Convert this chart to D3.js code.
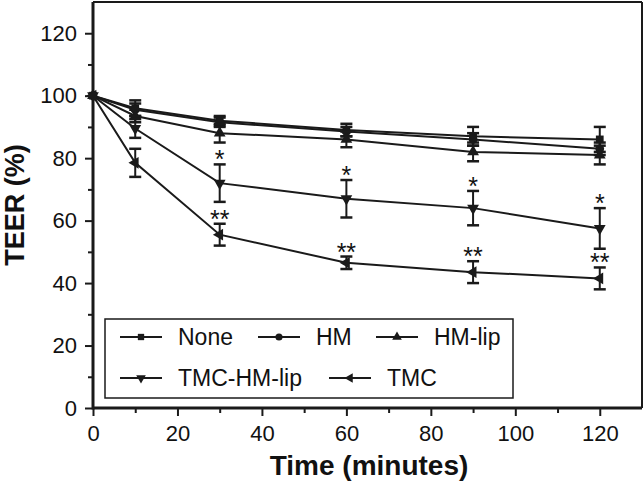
<!DOCTYPE html>
<html><head><meta charset="utf-8">
<script src="https://cdn.jsdelivr.net/npm/d3@7"></script>
<style>body{margin:0;background:#fff}svg{display:block}text{font-family:"Liberation Sans",Arial,sans-serif;fill:#111}</style>
</head><body><svg id="c" width="644" height="482"></svg>
<script>
const times = [0, 10, 30, 60, 90, 120];
const seriesNames = ["None", "HM", "HM-lip", "TMC-HM-lip", "TMC"];
const noneVals = [100, 96, 92, 89, 87, 86];
const noneErr = [0, 2.5, 1.5, 2, 3, 4];
const hmVals = [100, 95.5, 91.5, 88.5, 86, 83];
const hmErr = [0, 2, 1.5, 1.5, 2, 2];
const hmLipVals = [100, 93.5, 88, 86, 82, 81];
const hmLipErr = [0, 2, 3, 2.5, 3, 3];
const tmcHmLipVals = [100, 89.5, 72, 67, 64, 57.5];
const tmcHmLipErr = [0, 3, 6, 6, 5.5, 6.5];
const tmcVals = [100, 78.5, 55.5, 46.5, 43.5, 41.5];
const tmcErr = [0, 4.5, 3.5, 2, 3.5, 3.5];
const tmcHmLipSig = ["", "", "*", "*", "*", "*"];
const tmcSig = ["", "", "**", "**", "**", "**"];
const xTicks = [0, 20, 40, 60, 80, 100, 120];
const yTicks = [0, 20, 40, 60, 80, 100, 120];
const xLabel = "Time (minutes)";
const yLabel = "TEER (%)";

const svg = d3.select("#c");
const x = d3.scaleLinear().domain([0, 130]).range([93, 642]);
const y = d3.scaleLinear().domain([0, 130]).range([408, 2]);

const series = [
  {name: seriesNames[0], vals: noneVals, err: noneErr, sym: d3.symbolSquare, rot: 0, size: 60},
  {name: seriesNames[1], vals: hmVals, err: hmErr, sym: d3.symbolCircle, rot: 0, size: 60},
  {name: seriesNames[2], vals: hmLipVals, err: hmLipErr, sym: d3.symbolTriangle, rot: 0, size: 60},
  {name: seriesNames[3], vals: tmcHmLipVals, err: tmcHmLipErr, sym: d3.symbolTriangle, rot: 180, size: 60},
  {name: seriesNames[4], vals: tmcVals, err: tmcErr, sym: d3.symbolTriangle, rot: -90, size: 60}
];
const ink = "#1a1a1a";

// frame top/right
svg.append("line").attr("x1", 93).attr("x2", 642).attr("y1", 2).attr("y2", 2).attr("stroke", ink).attr("stroke-width", 2);
svg.append("line").attr("x1", 642).attr("x2", 642).attr("y1", 2).attr("y2", 408).attr("stroke", ink).attr("stroke-width", 2);

// axes
const gx = svg.append("g").attr("transform", "translate(0,408)")
  .call(d3.axisBottom(x).tickValues(xTicks).tickSize(8).tickPadding(9).tickFormat(d3.format("d")));
const gxm = svg.append("g").attr("transform", "translate(0,408)")
  .call(d3.axisBottom(x).tickValues(d3.range(10, 130, 20)).tickSize(5).tickFormat(""));
const gy = svg.append("g").attr("transform", "translate(93,0)")
  .call(d3.axisLeft(y).tickValues(yTicks).tickSize(8).tickPadding(8).tickFormat(d3.format("d")));
const gym = svg.append("g").attr("transform", "translate(93,0)")
  .call(d3.axisLeft(y).tickValues(d3.range(10, 130, 20)).tickSize(5).tickFormat(""));
[gx, gxm, gy, gym].forEach(g => {
  g.select(".domain").attr("stroke", ink).attr("stroke-width", 3);
  g.selectAll(".tick line").attr("stroke", ink).attr("stroke-width", 2);
  g.selectAll("text").attr("font-size", 22).attr("fill", "#111").attr("font-family", "Liberation Sans, Arial, sans-serif");
});
gx.select(".domain").attr("d", "M93,0H642");
gy.select(".domain").attr("d", "M0,2V409.5");
gxm.select(".domain").remove(); gym.select(".domain").remove();

// titles
svg.append("text").attr("x", 369).attr("y", 475).attr("text-anchor", "middle")
  .attr("font-size", 28).attr("font-weight", "bold").text(xLabel);
svg.append("text").attr("transform", "translate(24,205) rotate(-90)").attr("text-anchor", "middle")
  .attr("font-size", 27).attr("font-weight", "bold").text(yLabel);

const line = d3.line().x((d, i) => x(times[i])).y(d => y(d));
const capW = 6;
series.forEach(s => {
  const g = svg.append("g");
  g.append("path").attr("d", line(s.vals)).attr("fill", "none").attr("stroke", ink).attr("stroke-width", 2);
  s.vals.forEach((v, i) => {
    if (s.err[i] > 0) {
      const cx = x(times[i]), y1 = y(v + s.err[i]), y2 = y(v - s.err[i]);
      g.append("line").attr("x1", cx).attr("x2", cx).attr("y1", y1).attr("y2", y2).attr("stroke", ink).attr("stroke-width", 2);
      g.append("line").attr("x1", cx - capW).attr("x2", cx + capW).attr("y1", y1).attr("y2", y1).attr("stroke", ink).attr("stroke-width", 2.5);
      g.append("line").attr("x1", cx - capW).attr("x2", cx + capW).attr("y1", y2).attr("y2", y2).attr("stroke", ink).attr("stroke-width", 2.5);
    }
    g.append("path").attr("d", d3.symbol().type(s.sym).size(s.size)())
      .attr("transform", `translate(${x(times[i])},${y(v)}) rotate(${s.rot})`).attr("fill", ink);
  });
});

// significance stars
function stars(vals, err, sig) {
  sig.forEach((t, i) => {
    if (!t) return;
    svg.append("text").attr("x", x(times[i])).attr("y", y(vals[i] + err[i]) + 4)
      .attr("text-anchor", "middle").attr("font-size", 25).text(t);
  });
}
stars(tmcHmLipVals, tmcHmLipErr, tmcHmLipSig);
stars(tmcVals, tmcErr, tmcSig);

// legend
const lg = svg.append("g");
lg.append("rect").attr("x", 105).attr("y", 319).attr("width", 408).attr("height", 79)
  .attr("fill", "#fff").attr("stroke", ink).attr("stroke-width", 1.5);
const legPos = [[120, 337], [258, 337], [376, 337], [120, 378], [329, 378]];
series.forEach((s, i) => {
  const [lx, ly] = legPos[i];
  lg.append("line").attr("x1", lx).attr("x2", lx + 42).attr("y1", ly).attr("y2", ly).attr("stroke", ink).attr("stroke-width", 2);
  lg.append("path").attr("d", d3.symbol().type(s.sym).size(40)())
    .attr("transform", `translate(${lx + 21},${ly}) rotate(${s.rot})`).attr("fill", ink);
  lg.append("text").attr("x", lx + 58).attr("y", ly + 8).attr("font-size", 23).text(s.name);
});
</script></body></html>
